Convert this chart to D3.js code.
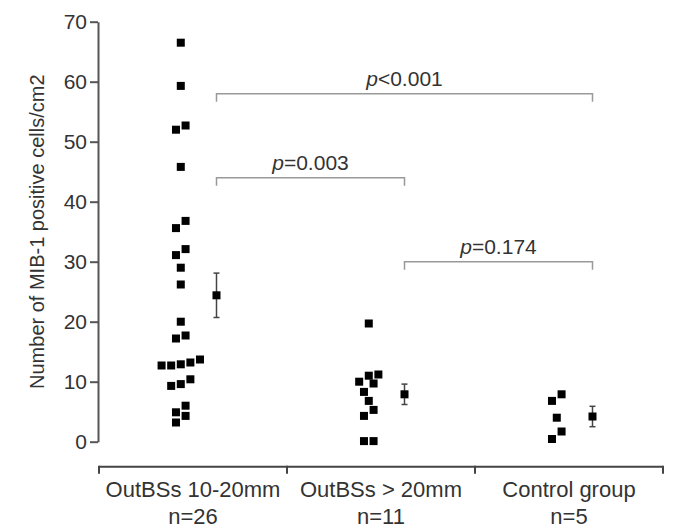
<!DOCTYPE html>
<html>
<head>
<meta charset="utf-8">
<script src="https://cdn.jsdelivr.net/npm/d3@7"></script>
<style>
  body { margin: 0; background: #fff; }
  text { font-family: "Liberation Sans", Arial, sans-serif; fill: #333; }
</style>
</head>
<body>
<div id="container"></div>
<script>
let w = 673;
let h = 528;

// DATA
let categories = ["OutBSs 10-20mm", "OutBSs > 20mm", "Control group"];
let counts = ["n=26", "n=11", "n=5"];
let small = [66.5, 59.3, 52.7, 52.0, 45.8, 36.8, 35.6, 32.1, 31.1, 29.0, 26.2, 20.0, 17.7, 17.2,
    13.7, 13.2, 12.9, 12.7, 12.7, 10.4, 9.6, 9.3, 6.0, 4.9, 4.3, 3.2];
let large = [19.7, 11.2, 11.0, 10.0, 9.7, 8.3, 6.8, 5.3, 4.3, 0.1, 0.1];
let control = [7.9, 6.8, 4.0, 1.7, 0.45];
let means = [24.4, 7.9, 4.2];
let sems = [3.7, 1.7, 1.7];
let yTicks = [0, 10, 20, 30, 40, 50, 60, 70];
// comparisons: [from group, to group, bracket level, label]
let compFrom = [0, 0, 1];
let compTo = [2, 1, 2];
let compLevel = [58, 44, 30];
let compText = ["<0.001", "=0.003", "=0.174"];

let groups = [small, large, control];

let svg = d3.select("#container").append("svg")
    .attr("width", w)
    .attr("height", h);

let y = d3.scaleLinear().domain([0, 70]).range([441.7, 21.7]);
let x = d3.scaleBand().domain(categories).range([99, 663]);
let bw = x.bandwidth();
let ptX = c => x(c) + bw * 0.435;
let errX = c => x(c) + bw * 0.625;

// Y axis
let yAxis = svg.append("g")
    .attr("transform", "translate(98,0)")
    .call(d3.axisLeft(y).tickValues(yTicks).tickSize(8).tickSizeOuter(0).tickPadding(3));
yAxis.select(".domain").attr("stroke", "#555").attr("stroke-width", 2);
yAxis.selectAll(".tick line").attr("stroke", "#555").attr("stroke-width", 2);
yAxis.selectAll(".tick text").style("font-size", "21px").attr("fill", "#333")
    .attr("font-family", "Liberation Sans, Arial, sans-serif");

svg.append("text")
    .attr("transform", "translate(44," + ((y(0) + y(70)) / 2) + ") rotate(-90)")
    .attr("text-anchor", "middle")
    .style("font-size", "20px")
    .text("Number of MIB-1 positive cells/cm2");

// X axis (category bracket)
let axisY = y(0) + 25;
let bounds = categories.map(c => x(c)).concat([x.range()[1]]);
let xg = svg.append("g");
xg.append("line")
    .attr("x1", x.range()[0]).attr("x2", x.range()[1])
    .attr("y1", axisY).attr("y2", axisY)
    .attr("stroke", "#444").attr("stroke-width", 2);
xg.selectAll(".xtick").data(bounds).enter()
    .append("line")
    .attr("class", "xtick")
    .attr("x1", d => d).attr("x2", d => d)
    .attr("y1", axisY - 1).attr("y2", axisY + 7)
    .attr("stroke", "#444").attr("stroke-width", 2);
xg.selectAll(".xlab").data(categories).enter()
    .append("text")
    .attr("class", "xlab")
    .attr("x", d => x(d) + bw / 2)
    .attr("y", axisY + 30)
    .attr("text-anchor", "middle")
    .style("font-size", "22px")
    .text(d => d);
xg.selectAll(".nlab").data(counts).enter()
    .append("text")
    .attr("class", "nlab")
    .attr("x", (d, i) => x(categories[i]) + bw / 2)
    .attr("y", axisY + 57)
    .attr("text-anchor", "middle")
    .style("font-size", "22px")
    .text(d => d);

// scatter: values that fall within one marker height share a row and spread sideways
let step = 9.6;
function dodge(values) {
    let sorted = values.slice().sort((a, b) => b - a);
    let rows = [];
    sorted.forEach(v => {
        let row = rows[rows.length - 1];
        if (row && row[0] - v < 1.5) row.push(v);
        else rows.push([v]);
    });
    let out = [];
    rows.forEach(row => {
        row.slice().reverse().forEach((v, k) => {
            out.push({v: v, dx: (k - (row.length - 1) / 2) * step});
        });
    });
    return out;
}

let size = 8;
groups.forEach((vals, gi) => {
    let c = categories[gi];
    svg.append("g").selectAll("rect").data(dodge(vals)).enter()
        .append("rect")
        .attr("x", d => ptX(c) + d.dx - size / 2)
        .attr("y", d => y(d.v) - size / 2)
        .attr("width", size)
        .attr("height", size)
        .attr("fill", "#000");
});

// mean +- SEM
let eg = svg.append("g");
categories.forEach((c, i) => {
    let cx = errX(c);
    eg.append("line")
        .attr("x1", cx).attr("x2", cx)
        .attr("y1", y(means[i] + sems[i])).attr("y2", y(means[i] - sems[i]))
        .attr("stroke", "#444").attr("stroke-width", 1.5);
    [means[i] + sems[i], means[i] - sems[i]].forEach(v => {
        eg.append("line")
            .attr("x1", cx - 3).attr("x2", cx + 3)
            .attr("y1", y(v)).attr("y2", y(v))
            .attr("stroke", "#444").attr("stroke-width", 1.5);
    });
    eg.append("rect")
        .attr("x", cx - size / 2).attr("y", y(means[i]) - size / 2)
        .attr("width", size).attr("height", size)
        .attr("fill", "#000");
});

// significance brackets
let bg = svg.append("g");
compLevel.forEach((lv, i) => {
    let x1 = errX(categories[compFrom[i]]);
    let x2 = errX(categories[compTo[i]]);
    let yy = y(lv);
    bg.append("path")
        .attr("d", "M" + x1 + "," + (yy + 8) + "V" + yy + "H" + x2 + "V" + (yy + 8))
        .attr("fill", "none")
        .attr("stroke", "#999")
        .attr("stroke-width", 1.5);
    let t = bg.append("text")
        .attr("x", (x1 + x2) / 2)
        .attr("y", yy - 8)
        .attr("text-anchor", "middle")
        .style("font-size", "21px");
    t.append("tspan").style("font-style", "italic").text("p");
    t.append("tspan").text(compText[i]);
});
</script>
</body>
</html>
